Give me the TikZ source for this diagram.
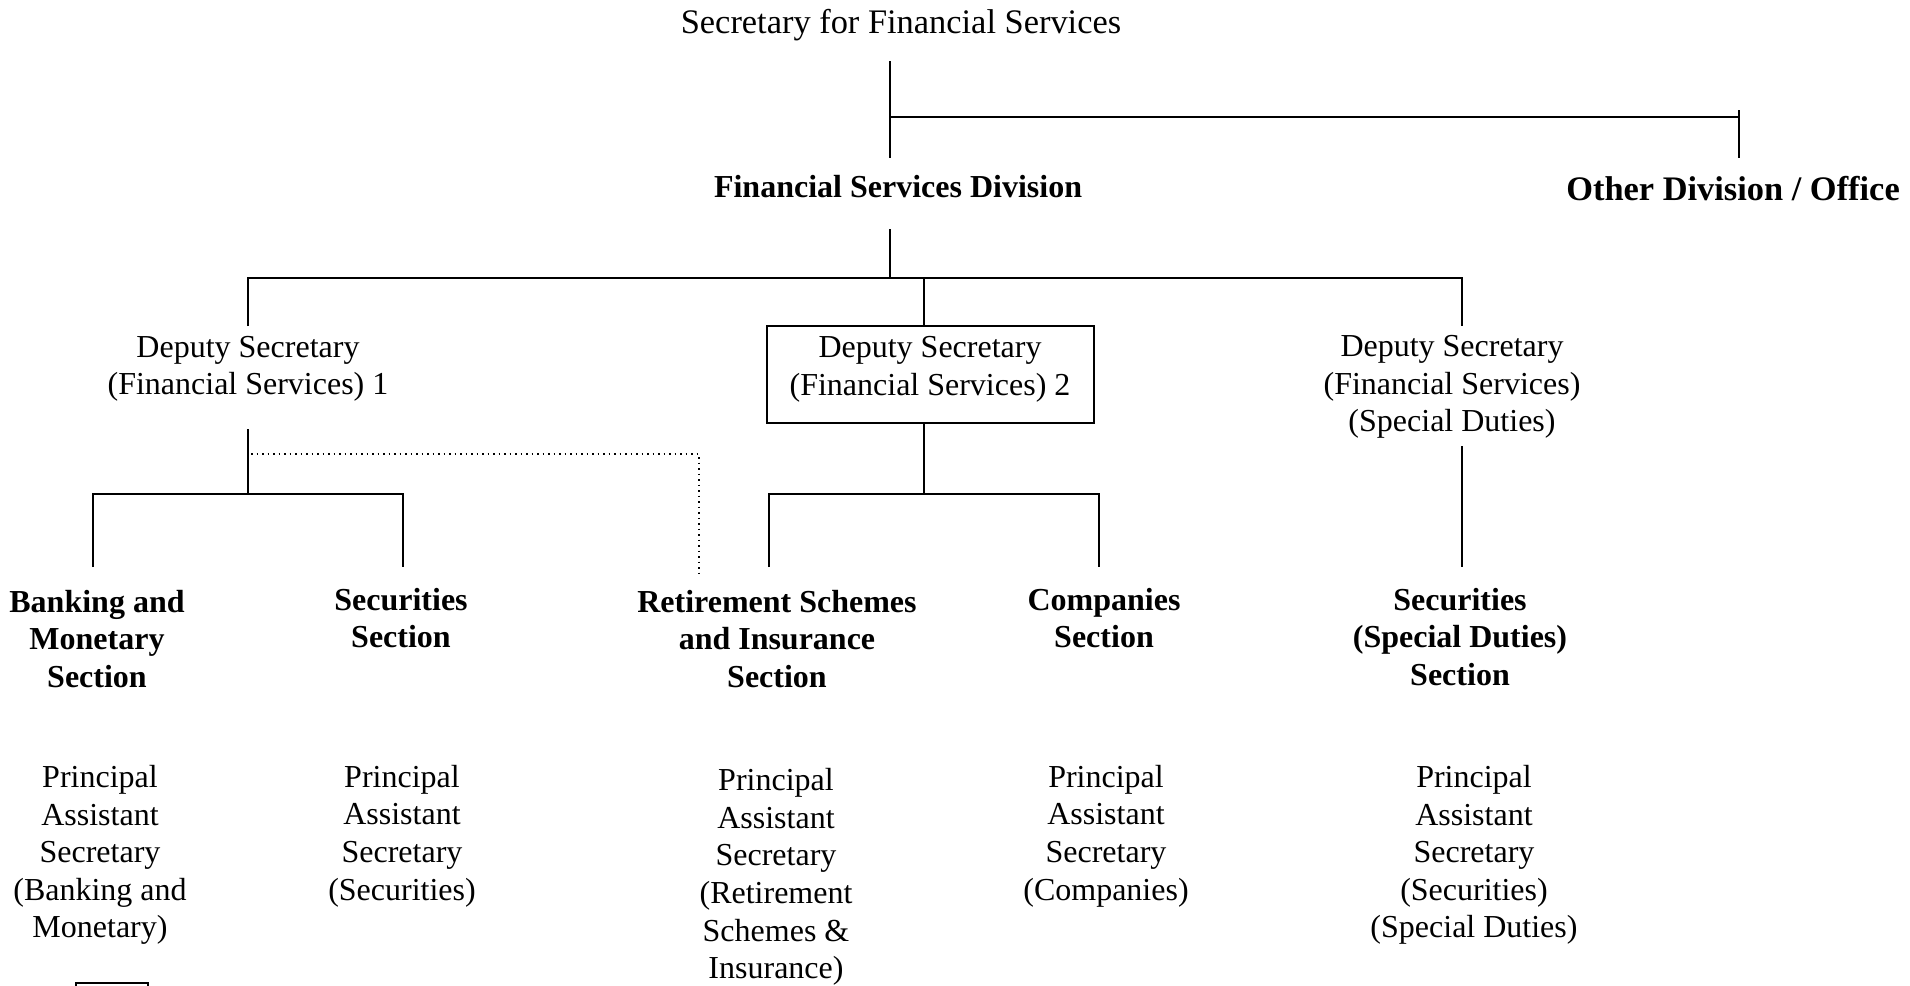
\documentclass[tikz,border=0pt]{standalone}
\usepackage{fontspec}
\setmainfont{Liberation Serif}

\begin{document}
\begin{tikzpicture}[x=0.5pt,y=-0.5pt,
	every node/.style={align=center,inner sep=2pt,font=\fontsize{16}{18.8}\selectfont},
	headtitle/.style={font=\fontsize{17.2}{20}\selectfont},
	sectitle/.style={font=\fontsize{16}{18.6}\selectfont\bfseries},
	bigtitle/.style={font=\fontsize{17.2}{20}\selectfont\bfseries},
	dsbox/.style={draw,line width=1pt,minimum width=163.5pt,minimum height=48.5pt},
	every path/.style={line width=0.75pt},
	hint/.style={dotted,line width=0.8pt}]
	\useasboundingbox (0,0) rectangle (1910,985);

	% top of the chart
	\node[headtitle] (sec) at (901,25) {Secretary for Financial Services};
	\node[sectitle] (fsd) at (898,187) {Financial Services Division};
	\node[bigtitle] (other) at (1733,189) {Other Division / Office};

	\coordinate (sectail) at (890,61);
	\coordinate (split) at (890,117);
	\coordinate (fsdin) at (890,158);
	\coordinate (othertop) at (1739,110);
	\coordinate (otherin) at (1739,158);
	\draw (sectail) -- (fsdin);
	\draw (split) -- (split -| othertop);
	\draw (othertop) -- (otherin);

	% deputy secretaries
	\node (ds1) at (248,369) {Deputy Secretary\\(Financial Services) 1};
	\node[dsbox] (ds2) at (930,374) {Deputy Secretary\\(Financial Services) 2\\[-11pt]};
	\node (ds3) at (1452,387) {Deputy Secretary\\(Financial Services)\\(Special Duties)};

	\coordinate (fsdtail) at (890,229);
	\coordinate (bus) at (890,278);
	\coordinate (ds1in) at (248,326);
	\coordinate (ds3in) at (1462,326);
	\draw (fsdtail) -- (bus);
	\draw (ds1in) |- (ds3in |- bus) -- (ds3in);
	\draw ([xshift=-3pt]ds2.north) -- ([xshift=-3pt]ds2.north |- bus);

	% sections
	\node[sectitle] (bank) at (97,639) {Banking and\\Monetary\\Section};
	\node[sectitle] (secs) at (401,618) {Securities\\Section};
	\node[sectitle] (ret) at (777,639) {Retirement Schemes\\and Insurance\\Section};
	\node[sectitle] (comp) at (1104,618) {Companies\\Section};
	\node[sectitle] (sspd) at (1460,637) {Securities\\(Special Duties)\\Section};

	\coordinate (ds1tail) at (248,429);
	\coordinate (g1) at (248,494);
	\coordinate (bankin) at (93,567);
	\coordinate (secsin) at (403,567);
	\draw (ds1tail) -- (g1);
	\draw (bankin) |- (secsin |- g1) -- (secsin);
	\coordinate (hintfrom) at (251,454);
	\coordinate (hintto) at (699,574);
	\draw[hint] (hintfrom) -| (hintto);

	\coordinate (g2) at (924,494);
	\coordinate (retin) at (769,567);
	\coordinate (compin) at (1099,567);
	\draw ([xshift=-3pt]ds2.south) -- (g2);
	\draw (retin) |- (compin |- g2) -- (compin);

	\coordinate (ds3tail) at (1462,446);
	\coordinate (sspdin) at (1462,567);
	\draw (ds3tail) -- (sspdin);

	% principal assistant secretaries
	\node (pas1) at (100,855) {Principal\\Assistant\\Secretary\\(Banking and\\Monetary)};
	\node (pas2) at (402,836) {Principal\\Assistant\\Secretary\\(Securities)};
	\node (pas3) at (776,877) {Principal\\Assistant\\Secretary\\(Retirement\\Schemes \&\\Insurance)};
	\node (pas4) at (1106,836) {Principal\\Assistant\\Secretary\\(Companies)};
	\node (pas5) at (1474,855) {Principal\\Assistant\\Secretary\\(Securities)\\(Special Duties)};

	% key box at the foot
	\node[draw,inner sep=0pt,minimum width=36pt,minimum height=20pt,anchor=north west] (key) at (75,982) {};
\end{tikzpicture}
\end{document}
